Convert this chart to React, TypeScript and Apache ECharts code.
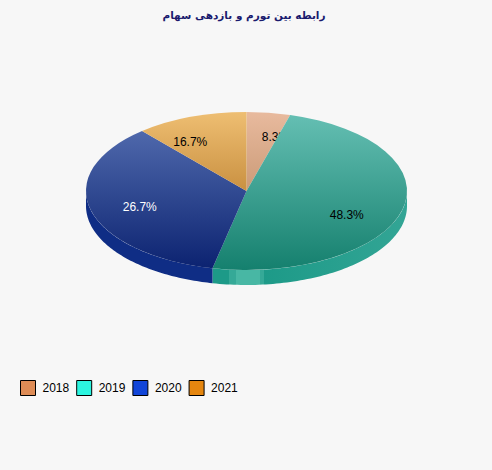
import React, { useEffect, useRef } from "react";
import * as echarts from "echarts";

const titleText = "رابطه بین تورم و بازدهی سهام";
const years = ["2018", "2019", "2020", "2021"];
const shares = [8.3, 48.3, 26.7, 16.7];
const legendColors = ["#DE8C56", "#2CF5E0", "#1145D8", "#E5860F"];
const topColors = ["#E8BA9E", "#66C0B4", "#5872B4", "#EEBE72"];
const bottomColors = ["#AE7B50", "#15806E", "#0B2270", "#A56310"];
const sideColors = ["#B98A66", "#1D9A88", "#0F2D85", "#B47A2A"];
const labelColors = ["#000000", "#000000", "#FFFFFF", "#000000"];

const CX = 246.5;
const CY = 191;
const RX = 160.5;
const RY = 79;
const DEPTH = 15;
const RATIO = RY / RX;
const FONT = "12px 'Liberation Sans'";

const total = shares.reduce((a, b) => a + b, 0);
const startOf = (i: number) =>
  (shares.slice(0, i).reduce((a, b) => a + b, 0) / total) * Math.PI * 2;

// The reference keeps the true angle of each ray on screen, then cuts it at the ellipse.
const ellipseAngle = (t: number) => {
  const a = Math.atan2(Math.sin(t) * RATIO, Math.cos(t));
  return a < 0 ? a + Math.PI * 2 : a;
};

const sideFill = (i: number): any => {
  if (i !== 1) return sideColors[i];
  const p = (x: number) => (x - (CX - RX)) / (2 * RX);
  return {
    type: "linear",
    global: true,
    x: CX - RX,
    y: 0,
    x2: CX + RX,
    y2: 0,
    colorStops: [
      { offset: 0, color: "#1D9A88" },
      { offset: p(229), color: "#1D9A88" },
      { offset: p(229), color: "#35A997" },
      { offset: p(236), color: "#35A997" },
      { offset: p(236), color: "#48B7A4" },
      { offset: p(260), color: "#48B7A4" },
      { offset: p(260), color: "#35A997" },
      { offset: p(264), color: "#35A997" },
      { offset: p(264), color: "#1D9A88" },
      { offset: 1, color: "#33A595" },
    ],
  };
};

const renderSlice = (i: number) => (): any => {
  const t0 = startOf(i);
  const t1 = startOf(i + 1);
  const a0 = ellipseAngle(t0);
  const a1 = i === shares.length - 1 ? Math.PI * 2 : ellipseAngle(t1);
  const children: any[] = [];

  const from = Math.max(a0, Math.PI / 2);
  const to = Math.min(a1, (Math.PI * 3) / 2);
  if (to > from) {
    const upper: number[][] = [];
    const lower: number[][] = [];
    const steps = 80;
    for (let k = 0; k <= steps; k++) {
      const a = from + ((to - from) * k) / steps;
      const x = CX + RX * Math.sin(a);
      const y = CY - RY * Math.cos(a);
      upper.push([x, y]);
      lower.push([x, y + DEPTH]);
    }
    children.push({
      type: "polygon",
      shape: { points: upper.concat(lower.reverse()) },
      style: { fill: sideFill(i) },
    });
  }

  children.push({
    type: "group",
    x: CX,
    y: CY,
    scaleY: RATIO,
    children: [
      {
        type: "sector",
        shape: {
          cx: 0,
          cy: 0,
          r0: 0,
          r: RX,
          startAngle: a0 - Math.PI / 2,
          endAngle: a1 - Math.PI / 2,
        },
        style: {
          fill: {
            type: "linear",
            global: true,
            x: 0,
            y: -RX,
            x2: 0,
            y2: RX,
            colorStops: [
              { offset: 0, color: topColors[i] },
              { offset: 1, color: bottomColors[i] },
            ],
          },
        },
      },
    ],
  });

  const mid = (t0 + t1) / 2;
  children.push({
    type: "text",
    x: CX + RX * 0.7 * Math.sin(mid),
    y: CY - RY * 0.7 * Math.cos(mid) - 1,
    style: {
      text: shares[i].toFixed(1) + "%",
      fill: labelColors[i],
      font: FONT,
      textAlign: "center",
      textVerticalAlign: "middle",
    },
  });

  return { type: "group", children };
};

export default function App() {
  const ref = useRef<HTMLDivElement>(null);
  useEffect(() => {
    document.body.style.margin = "0";
    const chart = echarts.init(ref.current!, undefined, { renderer: "svg" });
    chart.setOption({
      animation: false,
      backgroundColor: "#F7F7F7",
      title: {
        text: titleText,
        left: 244,
        top: 9,
        padding: 0,
        textAlign: "center",
        textStyle: {
          color: "#1A1A6E",
          fontFamily: "'DejaVu Sans'",
          fontSize: 10.5,
          fontWeight: "bold",
        },
      },
      legend: {
        left: 20,
        top: 380,
        padding: 0,
        itemWidth: 15,
        itemHeight: 15,
        itemGap: 7,
        icon: "rect",
        selectedMode: false,
        textStyle: {
          color: "#000000",
          fontFamily: "'Liberation Sans'",
          fontSize: 12,
          padding: [0, 0, 4, 2],
        },
        data: years.map((name, i) => ({
          name,
          itemStyle: {
            color: legendColors[i],
            borderColor: "#000000",
            borderWidth: 1,
          },
        })),
      },
      series: years.map((name, i) => ({
        type: "custom",
        name,
        coordinateSystem: "none",
        silent: true,
        itemStyle: { color: legendColors[i] },
        data: [shares[i]],
        renderItem: renderSlice(i),
      })),
    });
    return () => chart.dispose();
  }, []);
  return (
    <div
      ref={ref}
      style={{ width: 492, height: 470, position: "absolute", left: 0, top: 0 }}
    />
  );
}
